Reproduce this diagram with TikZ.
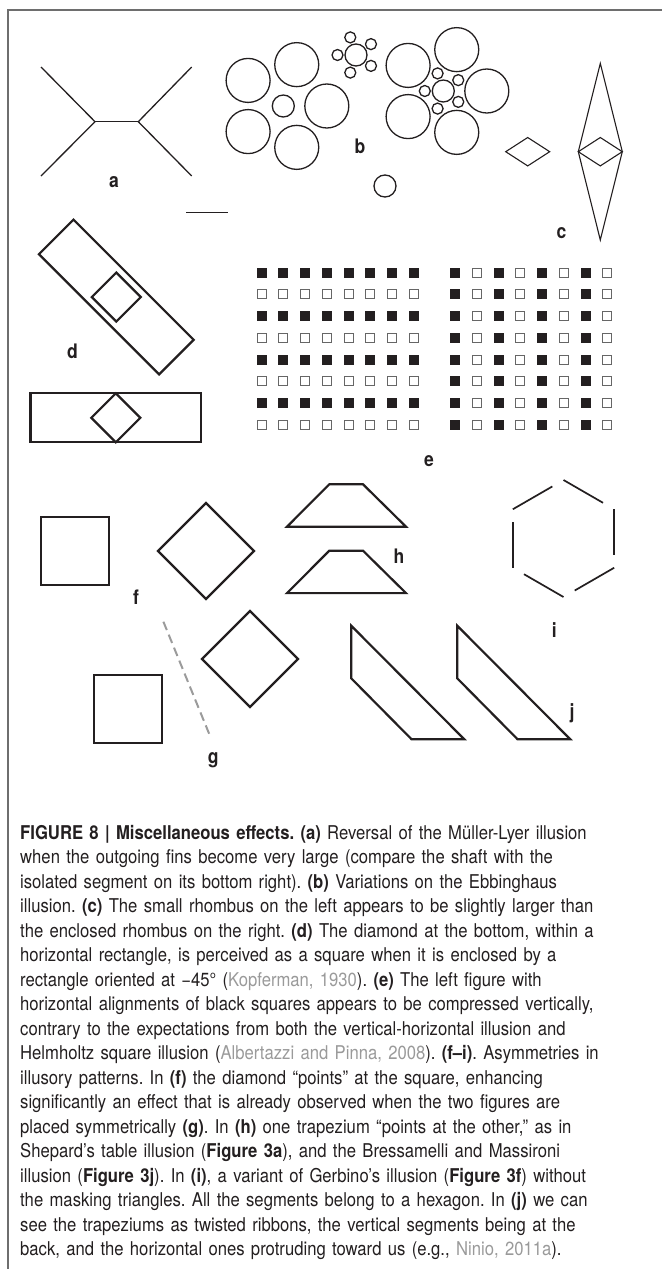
\documentclass[tikz,border=0pt]{standalone}
\usepackage{fontspec}
\setmainfont{TeX Gyre Heros}[FakeStretch=0.877]
\usepackage{tikz}
\definecolor{inkblack}{HTML}{231F20}
\definecolor{citegray}{HTML}{9A9A9A}
\definecolor{framegray}{HTML}{6E6E6E}
\definecolor{dashgray}{HTML}{9B9B9B}
\newcommand{\graycite}[1]{\textcolor{citegray}{#1}}
\frenchspacing

\begin{document}
\begin{tikzpicture}[x=1pt, y=-1pt,
    thinline/.style={line width=1.3pt, draw=inkblack},
    rhline/.style={line width=1.1pt, draw=inkblack},
    boldline/.style={line width=2.2pt, draw=inkblack},
    sqblack/.style={fill=inkblack},
    sqopen/.style={draw=black!60, line width=1pt},
    lbl/.style={font=\fontsize{20}{20}\selectfont\bfseries, text=inkblack, inner sep=0pt}]
    \useasboundingbox (0,0) rectangle (662,1269);
    \draw[framegray, line width=1.8pt] (8,1269) -- (8,10) -- (662,10);

    % --- (a) MUELLER-LYER ---
    \coordinate (shaftL) at (95,121.7);
    \coordinate (shaftR) at (138.3,121.7);
    \draw[thinline] (41,67) -- (shaftL) -- (41,176);
    \draw[thinline] (191.7,67) -- (shaftR) -- (191.7,176);
    \draw[thinline] (shaftL) -- (shaftR);
    \draw[thinline] (186,212.3) -- (228.3,212.3);
    \node[lbl] (labA) at (114,182) {a};

    % --- (b) EBBINGHAUS ---
    \begin{scope}[shift={(283.3,106)}]
        \draw[thinline] (0,0) circle (11);
        \foreach \ang in {0,72,...,288} \draw[thinline] (\ang:43.5) circle (22);
    \end{scope}
    \begin{scope}[shift={(356,55)}]
        \draw[thinline] (0,0) circle (11);
        \foreach \ang in {36,108,...,324} \draw[thinline] (\ang:18.5) circle (5.5);
    \end{scope}
    \begin{scope}[shift={(443.3,91)}]
        \draw[thinline] (0,0) circle (11);
        \foreach \ang in {0,72,...,288} \draw[thinline] (\ang:43.5) circle (22);
        \foreach \ang in {36,108,...,324} \draw[thinline] (\ang:18.5) circle (5.5);
    \end{scope}
    \draw[thinline] (385,186) circle (11);
    \node[lbl] (labB) at (360,146) {b};

    % --- (c) RHOMBI ---
    \def\rhombus{ (-22,0) -- (0,-14.2) -- (22,0) -- (0,14.2) -- cycle }
    \draw[rhline, shift={(527.7,151.7)}] \rhombus;
    \draw[rhline, shift={(600.3,151.7)}] \rhombus;
    \draw[rhline] (600.3,63.3) -- (578.3,151.7) -- (600.3,240) -- (622.3,151.7) -- cycle;
    \node[lbl] (labC) at (561.4,232.7) {c};

    % --- (d) DIAMOND IN RECTANGLES ---
    \def\diamondsq{ (0,-24.5) -- (24.5,0) -- (0,24.5) -- (-24.5,0) -- cycle }
    \draw[boldline] (73.5,219.6) -- (193.7,339.8) -- (159.1,374.4) -- (38.9,254.2) -- cycle;
    \draw[boldline, shift={(116.3,297)}] \diamondsq;
    \draw[boldline] (30.5,393.3) rectangle (201,442.3);
    \draw[boldline, shift={(115.8,417.8)}] \diamondsq;
    \node[lbl] (labD) at (72.6,351.7) {d};

    % --- (e) SQUARE GRIDS ---
    \foreach \c in {0,...,7} {
        \foreach \r in {0,2,4,6} \fill[sqblack] ({256.7+21.75*\c},{267.7+21.75*\r}) rectangle ++(10,10);
        \foreach \r in {1,3,5,7} \draw[sqopen] ({257.2+21.75*\c},{268.2+21.75*\r}) rectangle ++(9,9);
    }
    \foreach \r in {0,...,7} {
        \foreach \c in {0,2,4,6} \fill[sqblack] ({450+21.75*\c},{267.7+21.75*\r}) rectangle ++(10,10);
        \foreach \c in {1,3,5,7} \draw[sqopen] ({450.5+21.75*\c},{268.2+21.75*\r}) rectangle ++(9,9);
    }
    \node[lbl] (labE) at (429,461) {e};

    % --- (f) and (g) SQUARE AND DIAMOND ---
    \def\bigdiam{ (0,-48) -- (48,0) -- (0,48) -- (-48,0) -- cycle }
    \draw[boldline] (41,517.3) rectangle ++(68,68);
    \draw[boldline, shift={(206,551)}] \bigdiam;
    \node[lbl] (labF) at (136,597.3) {f};
    \draw[boldline] (93.7,675.3) rectangle ++(68,68);
    \draw[boldline, shift={(250,659)}] \bigdiam;
    \draw[dashgray, line width=2pt, dash pattern=on 9pt off 5pt] (163.4,621.7) -- (211,738.3);
    \node[lbl] (labG) at (213.2,760) {g};

    % --- (h) TRAPEZIA ---
    \def\trap{ (42.3,0) -- (76,0) -- (119,42.4) -- (0,42.4) -- cycle }
    \draw[boldline, shift={(287,484.3)}] \trap;
    \draw[boldline, shift={(287,550.7)}] \trap;
    \node[lbl] (labH) at (399,556.7) {h};

    % --- (i) HEXAGON SEGMENTS ---
    \foreach \k in {0,...,5}
        \draw[line width=1.7pt, draw=inkblack, shift={(563.5,538.5)}] (-90+60*\k:58.5) -- ++(30+60*\k:45.6);
    \node[lbl] (labI) at (554.2,630) {i};

    % --- (j) RIBBONS ---
    \def\ribbon{ (0,0) -- (0,52.6) -- (60.4,113.6) -- (113.1,113.6) -- cycle }
    \draw[boldline, shift={(351.2,625.7)}] \ribbon;
    \draw[boldline, shift={(457.2,625.7)}] \ribbon;
    \node[lbl] (labJ) at (572,713.3) {j};

    % --- CAPTION ---
    \node[anchor=north west, inner sep=0pt, text width=645pt, align=left, text=inkblack,
          font=\fontsize{19}{24.5}\selectfont] (caption) at (20,825) {%
        \textbf{FIGURE 8 | Miscellaneous effects. (a)} Reversal of the Müller-Lyer illusion\\
        when the outgoing fins become very large (compare the shaft with the\\
        isolated segment on its bottom right). \textbf{(b)} Variations on the Ebbinghaus\\
        illusion. \textbf{(c)} The small rhombus on the left appears to be slightly larger than\\
        the enclosed rhombus on the right. \textbf{(d)} The diamond at the bottom, within a\\
        horizontal rectangle, is perceived as a square when it is enclosed by a\\
        rectangle oriented at −45° (\graycite{Kopferman, 1930}). \textbf{(e)} The left figure with\\
        horizontal alignments of black squares appears to be compressed vertically,\\
        contrary to the expectations from both the vertical-horizontal illusion and\\
        Helmholtz square illusion (\graycite{Albertazzi and Pinna, 2008}). \textbf{(f–i)}. Asymmetries in\\
        illusory patterns. In \textbf{(f)} the diamond “points” at the square, enhancing\\
        significantly an effect that is already observed when the two figures are\\
        placed symmetrically \textbf{(g)}. In \textbf{(h)} one trapezium “points at the other,” as in\\
        Shepard’s table illusion (\textbf{Figure 3a}), and the Bressamelli and Massironi\\
        illusion (\textbf{Figure 3j}). In \textbf{(i)}, a variant of Gerbino’s illusion (\textbf{Figure 3f}) without\\
        the masking triangles. All the segments belong to a hexagon. In \textbf{(j)} we can\\
        see the trapeziums as twisted ribbons, the vertical segments being at the\\
        back, and the horizontal ones protruding toward us (e.g., \graycite{Ninio, 2011a}).};
\end{tikzpicture}
\end{document}
